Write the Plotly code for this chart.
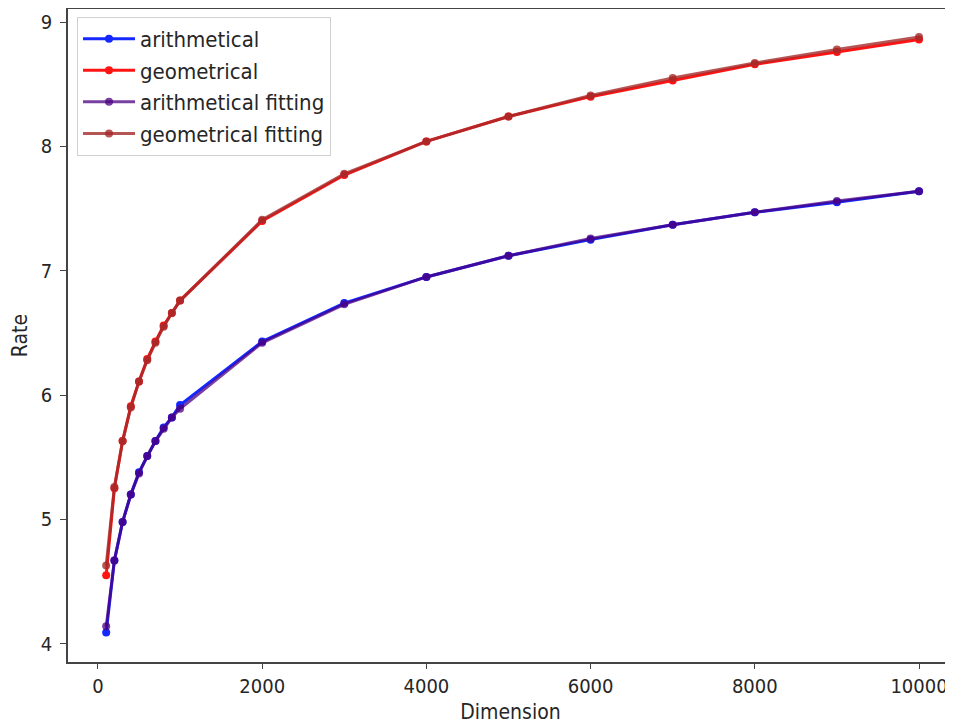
import plotly.graph_objects as go

dimension = [100, 200, 300, 400, 500, 600, 700, 800, 900, 1000,
             2000, 3000, 4000, 5000, 6000, 7000, 8000, 9000, 10000]

arithmetical = [4.09, 4.67, 4.98, 5.20, 5.38, 5.51, 5.63, 5.74, 5.82, 5.92,
                6.43, 6.74, 6.95, 7.12, 7.25, 7.37, 7.47, 7.55, 7.64]
geometrical = [4.55, 5.25, 5.63, 5.91, 6.11, 6.29, 6.43, 6.56, 6.66, 6.76,
               7.40, 7.77, 8.04, 8.24, 8.40, 8.53, 8.66, 8.76, 8.86]
arithmetical_fitting = [4.14, 4.67, 4.98, 5.20, 5.37, 5.51, 5.63, 5.73, 5.82, 5.89,
                        6.42, 6.73, 6.95, 7.12, 7.26, 7.37, 7.47, 7.56, 7.64]
geometrical_fitting = [4.63, 5.26, 5.63, 5.90, 6.11, 6.28, 6.42, 6.55, 6.66, 6.76,
                       7.41, 7.78, 8.04, 8.24, 8.41, 8.55, 8.67, 8.78, 8.88]

x_ticks = [0, 2000, 4000, 6000, 8000, 10000]
y_ticks = [4, 5, 6, 7, 8, 9]

series = [
    ("arithmetical", arithmetical, "rgb(20,40,255)"),
    ("geometrical", geometrical, "rgb(255,20,20)"),
    ("arithmetical fitting", arithmetical_fitting, "rgba(75,0,130,0.75)"),
    ("geometrical fitting", geometrical_fitting, "rgba(165,42,42,0.8)"),
]

fig = go.Figure()
for name, vals, col in series:
    fig.add_trace(go.Scatter(
        x=dimension, y=vals, name=name, mode="lines+markers",
        line=dict(color=col, width=3),
        marker=dict(color=col, size=8),
    ))

FAM = "DejaVu Sans Condensed, DejaVu Sans"
tickfont = dict(family=FAM, size=20, color="#262626")
labfont = dict(family=FAM, size=21, color="#262626")
fig.update_layout(
    width=945, height=718,
    margin=dict(l=60, r=0, t=1, b=64),
    paper_bgcolor="white", plot_bgcolor="white",
    font=labfont,
    showlegend=True,
    legend=dict(x=0.0102, y=0.988, xanchor="left", yanchor="top",
                bgcolor="white", bordercolor="#d0d0d0", borderwidth=1,
                font=dict(family=FAM, size=22, color="#262626"),
                itemwidth=52, tracegroupgap=0),
    xaxis=dict(range=[-365, 10414], tickvals=x_ticks,
               ticktext=[str(v) for v in x_ticks], tickfont=tickfont,
               showgrid=False, zeroline=False, automargin=False,
               showline=True, linecolor="#444", linewidth=1.5, mirror=True,
               ticks="outside", ticklen=5, tickcolor="#444",
               title=dict(text="Dimension", font=labfont, standoff=8)),
    yaxis=dict(range=[3.853, 9.105], tickvals=y_ticks,
               ticktext=[str(v) for v in y_ticks], tickfont=tickfont,
               showgrid=False, zeroline=False, automargin=False,
               showline=True, linecolor="#444", linewidth=1.5,
               ticks="outside", ticklen=6, tickcolor="#444",
               ticklabelstandoff=4,
               title=dict(text="Rate", font=labfont, standoff=14)),
)

fig.write_html("out.html")
